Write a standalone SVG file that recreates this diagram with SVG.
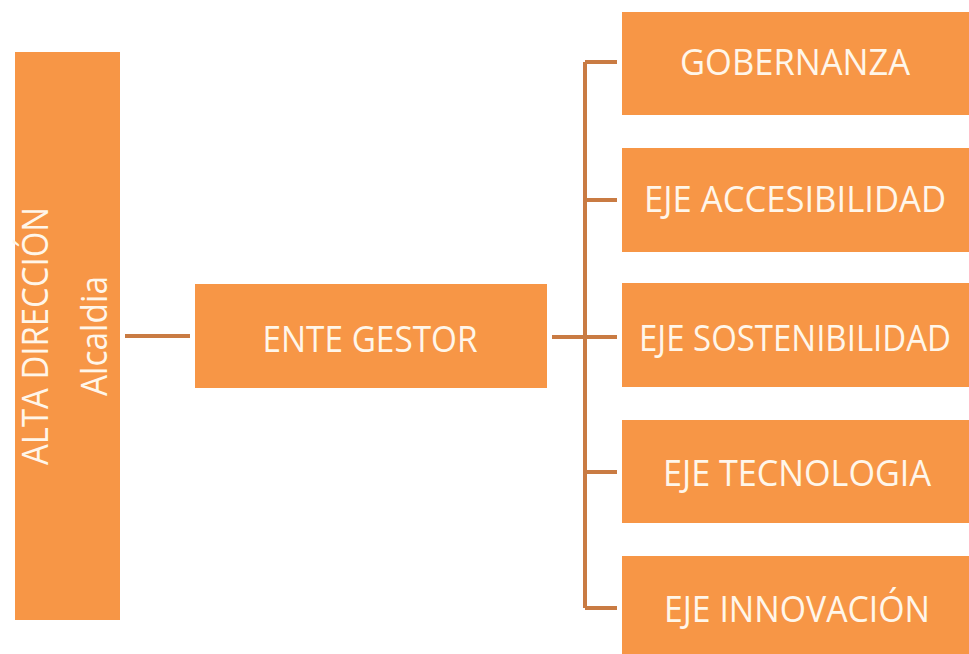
<svg xmlns="http://www.w3.org/2000/svg" width="969" height="654" viewBox="0 0 969 654">
<style>
.box{fill:#F79646;}
.t{fill:#FFF6EA;font-family:"Open Sans","Liberation Sans",sans-serif;font-size:36px;text-anchor:middle;}
.c{stroke:#C97B43;stroke-width:4;fill:none;}
</style>
<rect width="969" height="654" fill="#FFFFFF"/>
<g id="connectors">
<path class="c" d="M125 336H190"/>
<path class="c" d="M552 337H617"/>
<path class="c" d="M585 62V608"/>
<path class="c" d="M585 62H617M585 200H617M585 472H617M585 608H617"/>
</g>
<g id="alta-direccion">
<rect class="box" x="15" y="52" width="105" height="568"/>
<text class="t" transform="translate(48 336) rotate(-90)" font-size="33" textLength="258" lengthAdjust="spacingAndGlyphs">ALTA DIRECCIÓN</text>
<text class="t" transform="translate(107 336) rotate(-90)" font-size="33" textLength="120" lengthAdjust="spacingAndGlyphs">Alcaldia</text>
</g>
<g id="ente-gestor">
<rect class="box" x="195" y="284" width="352" height="104"/>
<text class="t" x="370" y="352" textLength="215" lengthAdjust="spacingAndGlyphs">ENTE GESTOR</text>
</g>
<g id="gobernanza">
<rect class="box" x="622" y="12" width="347" height="103"/>
<text class="t" x="795" y="75" textLength="230" lengthAdjust="spacingAndGlyphs">GOBERNANZA</text>
</g>
<g id="eje-accesibilidad">
<rect class="box" x="622" y="148" width="347" height="104"/>
<text class="t" x="795" y="212" textLength="302" lengthAdjust="spacingAndGlyphs">EJE ACCESIBILIDAD</text>
</g>
<g id="eje-sostenibilidad">
<rect class="box" x="622" y="283" width="347" height="104"/>
<text class="t" x="795" y="351" textLength="312" lengthAdjust="spacingAndGlyphs">EJE SOSTENIBILIDAD</text>
</g>
<g id="eje-tecnologia">
<rect class="box" x="622" y="420" width="347" height="103"/>
<text class="t" x="797" y="486" textLength="268" lengthAdjust="spacingAndGlyphs">EJE TECNOLOGIA</text>
</g>
<g id="eje-innovacion">
<rect class="box" x="622" y="556" width="347" height="98"/>
<text class="t" x="797" y="622" textLength="266" lengthAdjust="spacingAndGlyphs">EJE INNOVACIÓN</text>
</g>
</svg>
